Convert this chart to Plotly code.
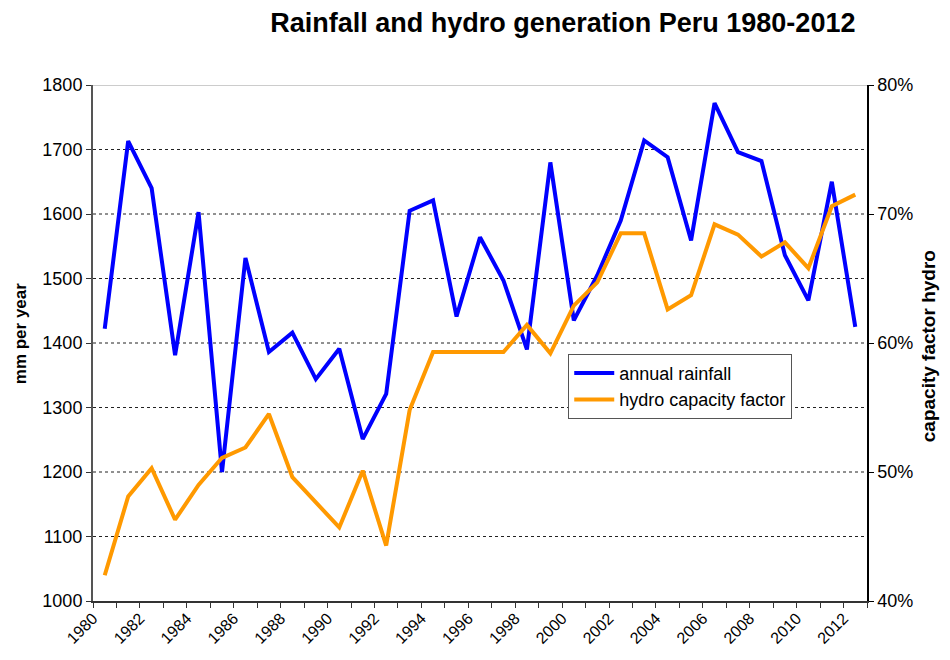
import plotly.graph_objects as go

years = list(range(1980, 2013))
rainfall = [1422, 1713, 1640, 1381, 1603, 1200, 1532, 1386, 1416, 1344,
            1391, 1251, 1321, 1605, 1621, 1441, 1564, 1497, 1390, 1680,
            1435, 1505, 1590, 1714, 1688, 1559, 1772, 1696, 1682, 1536,
            1466, 1650, 1425]
capacity = [42.0, 48.1, 50.3, 46.3, 49.0, 51.1, 51.9, 54.5, 49.6, 47.6,
            45.7, 50.1, 44.3, 54.8, 59.3, 59.3, 59.3, 59.3, 61.4, 59.2,
            62.9, 64.7, 68.5, 68.5, 62.6, 63.7, 69.2, 68.4, 66.7, 67.8,
            65.8, 70.6, 71.5]
tick_years = list(range(1980, 2013, 2))
left_ticks = list(range(1000, 1801, 100))
right_ticks = [40, 50, 60, 70, 80]

FONT = "Liberation Sans, Arial, sans-serif"

fig = go.Figure()
fig.add_trace(go.Scatter(x=years, y=rainfall, name="annual rainfall", mode="lines",
                         line=dict(color="#0000ff", width=4), yaxis="y"))
fig.add_trace(go.Scatter(x=years, y=capacity, name="hydro capacity factor", mode="lines",
                         line=dict(color="#ff9900", width=4), yaxis="y2"))

# gridlines (dotted)
for v in left_ticks[1:-1]:
    fig.add_shape(type="line", xref="paper", yref="y", x0=0, x1=1, y0=v, y1=v,
                  line=dict(color="#222222", width=1, dash="dot"), layer="below")
fig.add_shape(type="line", xref="paper", yref="y", x0=0, x1=1, y0=1800, y1=1800,
              line=dict(color="#bbbbbb", width=1.5), layer="below")

# axis titles
fig.add_annotation(text="<b>mm per year</b>", xref="paper", yref="paper",
                   x=-0.0943, y=0.517, textangle=-90, showarrow=False,
                   xanchor="center", yanchor="middle", font=dict(size=17, family=FONT))
fig.add_annotation(text="<b>capacity factor hydro</b>", xref="paper", yref="paper",
                   x=1.079, y=0.494, textangle=-90, showarrow=False,
                   xanchor="center", yanchor="middle", font=dict(size=19, family=FONT))

fig.update_layout(
    width=942, height=644,
    margin=dict(l=85, r=83, t=77, b=51, autoexpand=False),
    paper_bgcolor="white", plot_bgcolor="white",
    font=dict(family=FONT, size=16, color="#000000"),
    title=dict(text="<b>Rainfall and hydro generation Peru 1980-2012</b>",
               font=dict(size=27, family=FONT), x=0.589, xanchor="center",
               y=0.977, yanchor="middle"),
    showlegend=True,
    legend=dict(x=0.614, y=0.479, xanchor="left", yanchor="top",
                bgcolor="white", bordercolor="#555555", borderwidth=1,
                font=dict(size=18, family=FONT), tracegroupgap=0,
                itemwidth=40),
    xaxis=dict(range=[1979.5, 2012.5], tickmode="array",
               tickvals=[y - 0.5 for y in tick_years],
               ticktext=[str(y) for y in tick_years],
               tickangle=-45, ticks="", showgrid=False, zeroline=False,
               showline=True, linecolor="#333333", linewidth=1.5,
               tickfont=dict(size=16), automargin=False,
               minor=dict(ticks="outside", tick0=1979.5, dtick=1, ticklen=5,
                          tickcolor="#333333", showgrid=False)),
    yaxis=dict(range=[1000, 1800], tickvals=left_ticks, ticks="outside",
               ticklen=5, tickcolor="#333333", showgrid=False, zeroline=False,
               showline=True, linecolor="#555555", linewidth=2,
               tickfont=dict(size=18), automargin=False),
    yaxis2=dict(range=[40, 80], tickvals=right_ticks,
                ticktext=[f"{v}%" for v in right_ticks],
                overlaying="y", side="right", ticks="outside", ticklen=5,
                tickcolor="#000000", showgrid=False, zeroline=False,
                showline=True, linecolor="#000000", linewidth=1.5,
                tickfont=dict(size=18), automargin=False),
)

fig.write_html("out.html")
